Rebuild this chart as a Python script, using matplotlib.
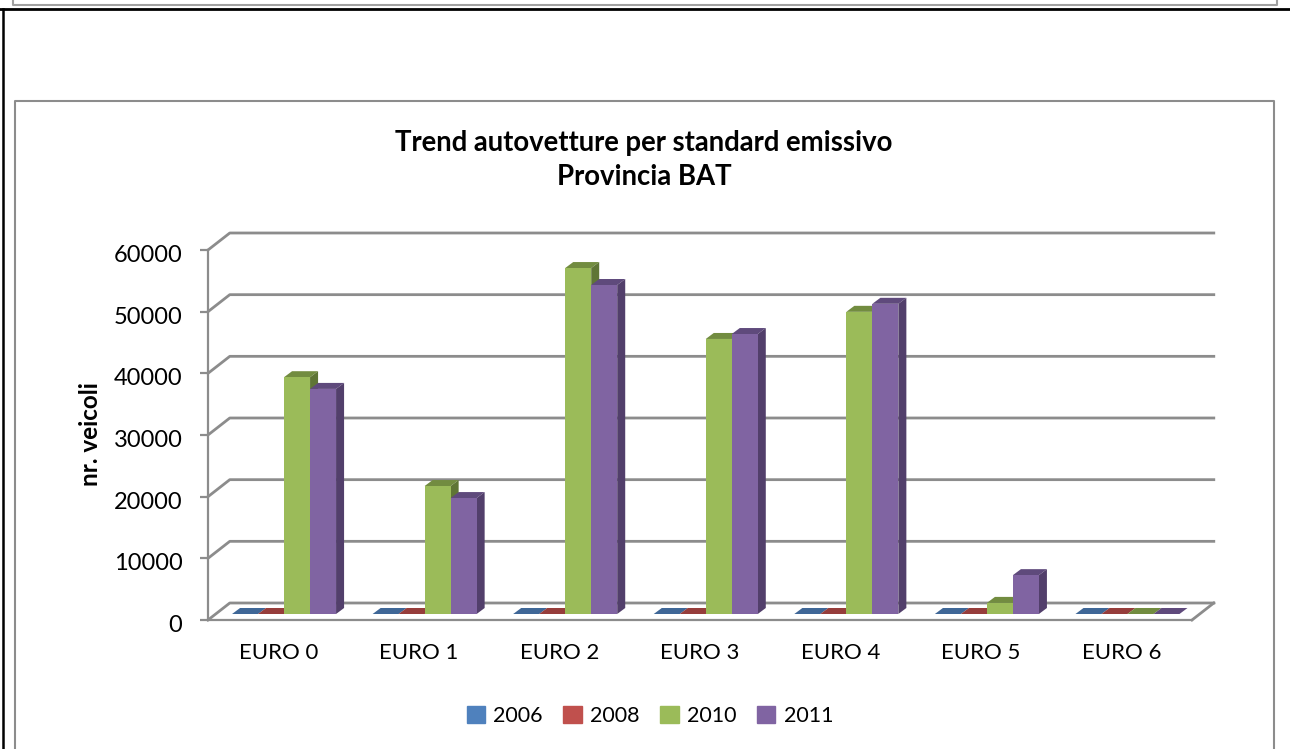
import matplotlib
matplotlib.use("Agg")
import matplotlib.pyplot as plt
from matplotlib.patches import Patch
from matplotlib.transforms import ScaledTranslation

plt.rcParams["font.family"] = ["Lato", "DejaVu Sans"]

# Chart values
categories = ["EURO 0", "EURO 1", "EURO 2", "EURO 3", "EURO 4", "EURO 5", "EURO 6"]
years = ["2006", "2008", "2010", "2011"]
values_2006 = [0, 0, 0, 0, 0, 0, 0]
values_2008 = [0, 0, 0, 0, 0, 0, 0]
values_2010 = [38400, 20750, 56100, 44600, 49000, 1800, 0]
values_2011 = [36500, 18800, 53350, 45400, 50300, 6300, 0]
y_ticks = [0, 10000, 20000, 30000, 40000, 50000, 60000]

series = [values_2006, values_2008, values_2010, values_2011]
front_colors = ["#4F81BD", "#C0504D", "#9BBB59", "#8064A2"]
top_colors = ["#3F6797", "#963D3B", "#728C40", "#5F4A7C"]
side_colors = ["#34557D", "#7C3230", "#5F7535", "#523F6B"]
grid_color = "#8C8C8C"

W, H = 1290, 749
fig = plt.figure(figsize=(W / 100, H / 100), dpi=100)

# Background frames, in pixel coordinates
bg = fig.add_axes([0, 0, 1, 1])
bg.set_xlim(0, W)
bg.set_ylim(H, 0)
bg.axis("off")
bg.plot([13, 13, 1277, 1277], [0, 5, 5, 0], color="#A0A0A0", lw=1.5)
bg.plot([0, W], [9, 9], color="black", lw=2)
bg.plot([2.5, 2.5], [9, H], color="black", lw=1.8)
bg.plot([15, 15, 1274, 1274], [H, 101, 101, H], color="#8C8C8C", lw=1.5)

bg.text(644, 143, "Trend autovetture per standard emissivo", ha="center", va="center",
        fontsize=19.8, fontweight="bold")
bg.text(644, 177, "Provincia BAT", ha="center", va="center", fontsize=19.8, fontweight="bold")
bg.text(90, 434, "nr. veicoli", ha="center", va="center", rotation=90,
        fontsize=17.5, fontweight="bold")

# Front plane of the 3D box is the axes rectangle
ax = fig.add_axes([208 / W, (H - 620) / H, 984 / W, 370 / H])
ax.patch.set_alpha(0)
ax.set_xlim(0, 7)
ax.set_ylim(0, 60000)

wall_dx = 0.155
wall_dy = 2757
bar_dx = 0.057
bar_dy = 973
bar_base = 973
bar_start = 0.171
bar_w = 0.185

# Back wall gridlines, left side and floor
for t in y_ticks:
    ax.plot([0, wall_dx, 7 + wall_dx], [t, t + wall_dy, t + wall_dy],
            color=grid_color, lw=2, clip_on=False, zorder=1)
ax.plot([7, 7 + wall_dx], [0, wall_dy], color=grid_color, lw=2, clip_on=False, zorder=1)

# Bars: front face, top and side
for i in range(len(categories)):
    for j, vals in enumerate(series):
        v = vals[i]
        x0 = i + bar_start + j * bar_w
        x1 = x0 + bar_w
        y1 = bar_base + v
        z = 3 + i * 4 + j
        ax.fill([x0, x1, x1 + bar_dx, x0 + bar_dx], [y1, y1, y1 + bar_dy, y1 + bar_dy],
                color=top_colors[j], lw=0, clip_on=False, zorder=z)
        if v > 0:
            ax.fill([x1, x1 + bar_dx, x1 + bar_dx, x1],
                    [bar_base, bar_base + bar_dy, y1 + bar_dy, y1],
                    color=side_colors[j], lw=0, clip_on=False, zorder=z)
            ax.bar(x0, v, width=bar_w, bottom=bar_base, align="edge",
                   color=front_colors[j], lw=0, zorder=z)

for name in ["top", "right"]:
    ax.spines[name].set_visible(False)
for name in ["left", "bottom"]:
    ax.spines[name].set_color(grid_color)
    ax.spines[name].set_linewidth(1.6)
    ax.spines[name].set_zorder(2)

ax.set_yticks(y_ticks)
ax.set_xticks([i + 0.5 for i in range(len(categories))])
ax.set_xticklabels(categories)
ax.tick_params(axis="x", length=0, pad=16.5, labelsize=16)
ax.tick_params(axis="y", length=6, width=1.6, color=grid_color, pad=12.5, labelsize=17)

# y labels sit a little below their ticks in the original
nudge = ScaledTranslation(0, -3.5 / 100, fig.dpi_scale_trans)
for lab in ax.get_yticklabels():
    lab.set_transform(lab.get_transform() + nudge)

handles = [Patch(color=c, label=y) for c, y in zip(front_colors, years)]
fig.legend(handles=handles, loc="center", bbox_to_anchor=(650 / W, (H - 716) / H), ncol=4,
           frameon=False, fontsize=15.5, handlelength=0.85, handleheight=0.85,
           handletextpad=0.4, columnspacing=0.95)

fig.savefig("out.png", dpi=100)
